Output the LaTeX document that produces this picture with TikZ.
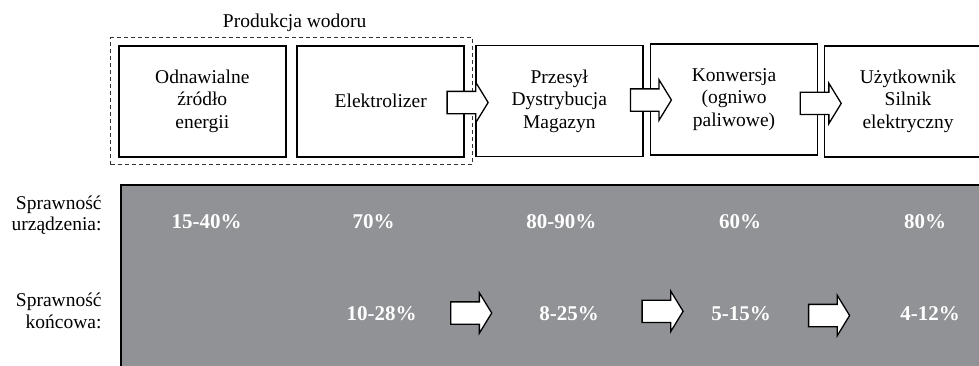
\documentclass[tikz,border=0pt]{standalone}
\usepackage{fontspec}
\setmainfont{Liberation Serif}
\usetikzlibrary{%
  shapes.arrows,%
  fit%
}
\definecolor{panelgray}{RGB}{145,146,149}
\tikzset{x=1pt, y=-1pt}
\tikzset{stage/.style = {draw, line width=1.6pt, minimum width=167pt,
        minimum height=111pt, inner sep=0pt, align=center,
        font=\fontsize{19.5}{22.5}\selectfont},%
        flow/.style = {single arrow, draw, fill=white, line width=1.3pt,
        minimum height=41pt, inner xsep=0pt, inner ysep=10.5pt,
        text height=0pt, text depth=0pt,
        single arrow head extend=9pt, single arrow tip angle=117},%
        rate/.style = {text=white, font=\fontsize{21}{24}\selectfont\bfseries},%
        rowlabel/.style = {align=right, anchor=east, inner sep=0pt,
        font=\fontsize{19.5}{21.5}\selectfont}}

\begin{document}
\begin{tikzpicture}
    \useasboundingbox (0,0) rectangle (979,365);
    \clip (0,0) rectangle (979,365);
    \node[stage] (source) at (202.3,101.2) {Odnawialne\\źródło\\energii};
    \node[stage] (electro) at (380.7,101.2) {Elektrolizer};
    \node[stage] (transport) at (559.3,101) {Przesył\\Dystrybucja\\Magazyn};
    \node[stage] (fuelcell) at (734,99.5) {Konwersja\\(ogniwo\\paliwowe)};
    \node[stage] (user) at (908,101.3) {Użytkownik\\Silnik\\elektryczny};
    \node[draw, black!80, line width=0.9pt, dash pattern=on 4pt off 3pt,
          fit=(source)(electro), inner sep=7.2pt] (production) {};
    \node[inner sep=0pt, font=\fontsize{19.5}{22}\selectfont] (prodlabel) at (294.7,23.3) {Produkcja wodoru};
    \node[flow] (arrA) at (464.2,102.5) {};
    \node[flow] (arrB) at (647.5,100) {};
    \node[flow] (arrC) at (817.3,103.4) {};
    % sprawnosci
    \draw[fill=panelgray, line width=1.2pt] (121,185) rectangle (995,375);
    \node[rowlabel] (devlabel) at (101.7,215) {Sprawność\\urządzenia:};
    \node[rowlabel] (totlabel) at (101.7,311) {Sprawność\\końcowa:};
    \node[rate] (devA) at (206.7,221.5) {15-40\%};
    \node[rate] (devB) at (373.7,221.5) {70\%};
    \node[rate] (devC) at (561.3,221.5) {80-90\%};
    \node[rate] (devD) at (740,221.5) {60\%};
    \node[rate] (devE) at (925,221.5) {80\%};
    \node[rate] (totB) at (381.5,314) {10-28\%};
    \node[rate] (totC) at (569,314) {8-25\%};
    \node[rate] (totD) at (741,314) {5-15\%};
    \node[rate] (totE) at (930,314) {4-12\%};
    \node[flow] (arrD) at (467.8,313) {};
    \node[flow] (arrE) at (659.2,311.3) {};
    \node[flow] (arrF) at (825.7,315.5) {};
\end{tikzpicture}
\end{document}
